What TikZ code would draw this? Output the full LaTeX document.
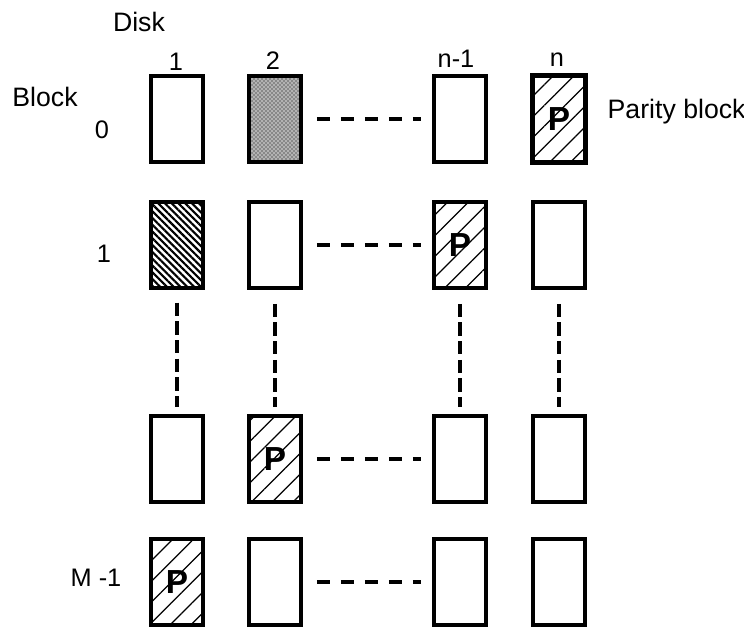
\documentclass[tikz,border=0pt]{standalone}
\usepackage{fontspec}
\setmainfont{Liberation Sans}
\usetikzlibrary{patterns,patterns.meta}
\tikzset{%
    blk/.style={draw, line width=3.2pt, minimum width=39.5pt, minimum height=65pt,
        inner sep=0pt, font=\fontsize{25}{25}\selectfont\bfseries},
    parity/.style={blk, pattern={Lines[angle=45,distance=11pt,line width=0.9pt]}},
    hatched/.style={blk, pattern={Lines[angle=-45,distance=3.6pt,line width=1.6pt]}},
    speckled/.style={blk, preaction={fill=gray!60}, pattern=crosshatch dots},
    hlink/.style={line width=3pt, dash pattern=on 10pt off 8pt, shorten <=10pt, shorten >=8pt},
    vlink/.style={line width=3pt, dash pattern=on 10pt off 4pt, shorten <=10pt, shorten >=5pt},
    word/.style={font=\fontsize{20}{20}\selectfont},
    num/.style={font=\fontsize{19}{19}\selectfont}
}
\begin{document}
\begin{tikzpicture}[x=0.75pt,y=-0.75pt]
    \useasboundingbox (0,0) rectangle (744,629);
%-----------------------------------------------
    \node[blk]      (b10) at (177,119) {};
    \node[speckled] (b20) at (275,119) {};
    \node[blk]      (bm0) at (460,119) {};
    \node[parity, line width=3.8pt] (bn0) at (559,119) {P};
    \node[hatched]  (b11) at (177,245) {};
    \node[blk]      (b21) at (275,245) {};
    \node[parity]   (bm1) at (460,245) {P};
    \node[blk]      (bn1) at (559,245) {};
    \node[blk]      (b12) at (177,459) {};
    \node[parity]   (b22) at (275,459) {P};
    \node[blk]      (bm2) at (460,459) {};
    \node[blk]      (bn2) at (559,459) {};
    \node[parity]   (b13) at (177,582) {P};
    \node[blk]      (b23) at (275,582) {};
    \node[blk]      (bm3) at (460,582) {};
    \node[blk]      (bn3) at (559,582) {};
%-----------------------------------------------
    \foreach \r in {0,1,2,3}
        \draw[hlink] (b2\r) -- (bm\r);
    \foreach \c in {1,2,m,n}
        \draw[vlink] (b\c1) -- (b\c2);
%-----------------------------------------------
    \node[word] (disk) at (139,22) {Disk};
    \node[word] (block) at (45,97) {Block};
    \node[word, anchor=west] (pblk) at (603,112) {Parity block};
    \node[num] (d1) at (176,62) {1};
    \node[num] (d2) at (273,61) {2};
    \node[num] (dm) at (456,59) {n-1};
    \node[num] (dn) at (557,60) {n};
    \node[num] (r0) at (102,130) {0};
    \node[num] (r1) at (104,254) {1};
    \node[num] (rm) at (96,578) {M -1};
\end{tikzpicture}
\end{document}
